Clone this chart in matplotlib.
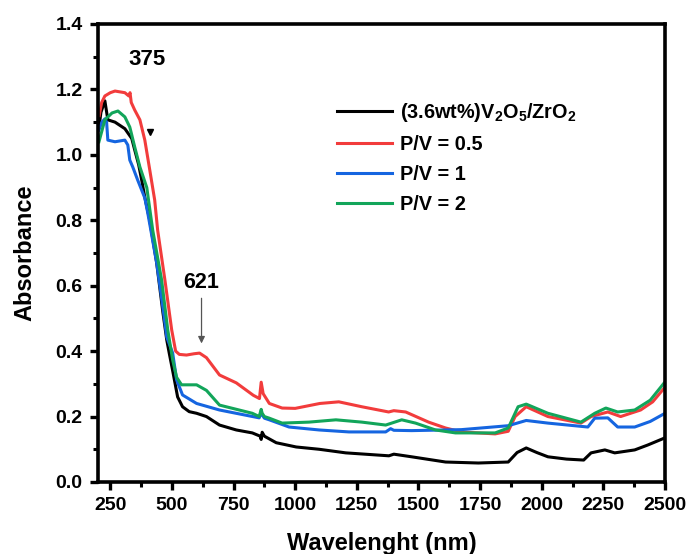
import matplotlib.pyplot as plt
from matplotlib.ticker import MultipleLocator

plt.rcParams['font.family'] = ['Liberation Sans', 'DejaVu Sans']
plt.rcParams['font.weight'] = 'bold'
plt.rcParams['mathtext.fontset'] = 'custom'
plt.rcParams['mathtext.rm'] = 'Liberation Sans:bold'
plt.rcParams['mathtext.it'] = 'Liberation Sans:bold'
plt.rcParams['mathtext.bf'] = 'Liberation Sans:bold'

# ----------------------------
# Data
# ----------------------------
wl_base = [205, 212, 228, 240, 269, 309, 337, 349, 365, 378, 390, 410, 438, 463, 479, 490,
           503, 523, 543, 570, 600, 640, 693, 761, 826, 858, 862, 866, 875, 923, 1004, 1097,
           1205, 1380, 1400, 1472, 1610, 1743, 1864, 1900, 1937, 1980, 2025, 2100, 2170, 2200,
           2256, 2296, 2377, 2430, 2500]
a_base = [1.09, 1.13, 1.165, 1.107, 1.10, 1.08, 1.05, 1.015, 0.97, 0.92, 0.87, 0.80, 0.67, 0.52,
          0.434, 0.39, 0.34, 0.26, 0.23, 0.215, 0.21, 0.20, 0.174, 0.159, 0.15, 0.14, 0.13, 0.152,
          0.14, 0.12, 0.107, 0.100, 0.089, 0.08, 0.085, 0.077, 0.061, 0.058, 0.061, 0.09, 0.104,
          0.09, 0.077, 0.07, 0.067, 0.089, 0.098, 0.089, 0.098, 0.113, 0.135]

wl_p05 = [205, 215, 228, 250, 269, 309, 325, 330, 335, 349, 370, 390, 410, 430, 442, 471, 499,
          515, 530, 559, 590, 612, 640, 693, 761, 830, 855, 862, 870, 895, 947, 1000, 1100, 1177,
          1270, 1379, 1400, 1448, 1541, 1610, 1674, 1811, 1864, 1892, 1937, 2025, 2159, 2200,
          2268, 2320, 2401, 2450, 2500]
a_p05 = [1.12, 1.16, 1.18, 1.19, 1.195, 1.19, 1.18, 1.19, 1.16, 1.137, 1.107, 1.045, 0.954,
         0.862, 0.77, 0.62, 0.465, 0.40, 0.39, 0.388, 0.392, 0.394, 0.38, 0.327, 0.303, 0.265,
         0.255, 0.305, 0.27, 0.24, 0.226, 0.225, 0.24, 0.245, 0.23, 0.214, 0.218, 0.214, 0.183,
         0.165, 0.153, 0.147, 0.155, 0.2, 0.23, 0.2, 0.18, 0.2, 0.214, 0.2, 0.22, 0.245, 0.29]

wl_p1 = [204, 216, 228, 235, 240, 269, 309, 321, 329, 341, 361, 390, 402, 438, 463, 479, 503,
         519, 543, 600, 693, 854, 862, 866, 875, 895, 975, 1097, 1218, 1367, 1387, 1400, 1472,
         1674, 1864, 1937, 2025, 2187, 2215, 2268, 2308, 2377, 2440, 2500]
a_p1 = [1.076, 1.10, 1.11, 1.10, 1.045, 1.04, 1.045, 1.03, 0.984, 0.963, 0.923, 0.868, 0.822,
        0.67, 0.535, 0.443, 0.394, 0.312, 0.266, 0.24, 0.22, 0.196, 0.214, 0.205, 0.195, 0.19,
        0.168, 0.159, 0.153, 0.153, 0.163, 0.158, 0.157, 0.16, 0.172, 0.188, 0.18, 0.168, 0.195,
        0.196, 0.168, 0.168, 0.185, 0.21]

wl_p2 = [204, 228, 257, 281, 309, 329, 335, 349, 370, 398, 422, 458, 483, 503, 519, 539, 600,
         640, 693, 826, 854, 862, 866, 875, 895, 947, 1056, 1165, 1270, 1367, 1432, 1488, 1569,
         1650, 1811, 1864, 1904, 1937, 2025, 2159, 2215, 2260, 2308, 2377, 2440, 2500]
a_p2 = [1.04, 1.107, 1.128, 1.134, 1.116, 1.085, 1.067, 1.024, 0.963, 0.90, 0.77, 0.618, 0.465,
        0.373, 0.32, 0.297, 0.297, 0.28, 0.235, 0.21, 0.2, 0.222, 0.21, 0.2, 0.195, 0.18, 0.183,
        0.19, 0.183, 0.174, 0.19, 0.18, 0.159, 0.15, 0.15, 0.165, 0.23, 0.238, 0.21, 0.183, 0.21,
        0.226, 0.214, 0.22, 0.25, 0.306]

labels = [r'(3.6wt%)V$_2$O$_5$/ZrO$_2$', 'P/V = 0.5', 'P/V = 1', 'P/V = 2']
colors = ['black', '#f23c3c', '#1565e0', '#12a55a']

# ----------------------------
# Plot
# ----------------------------
fig = plt.figure(figsize=(6.89, 5.54), dpi=100)
ax = fig.add_axes([0.1422, 0.130, 0.8230, 0.8267])

series = [(wl_base, a_base), (wl_p05, a_p05), (wl_p1, a_p1), (wl_p2, a_p2)]
for (x, y), lab, c in zip(series, labels, colors):
    ax.plot(x, y, color=c, lw=2.2, label=lab)

ax.set_xlim(200, 2500)
ax.set_ylim(0, 1.4)
ax.xaxis.set_major_locator(MultipleLocator(250))
ax.xaxis.set_minor_locator(MultipleLocator(125))
ax.yaxis.set_major_locator(MultipleLocator(0.2))
ax.yaxis.set_minor_locator(MultipleLocator(0.1))
ax.yaxis.set_major_formatter(plt.FuncFormatter(lambda v, p: f"{v:.1f}"))

for s in ax.spines.values():
    s.set_linewidth(2.6)
ax.tick_params(which='major', direction='out', length=6, width=2.4, labelsize=14, pad=5)
ax.tick_params(which='minor', direction='out', length=3.5, width=2.2)
ax.tick_params(top=False, right=False)

ax.set_xlabel('Wavelenght (nm)', fontsize=17, fontweight='bold', labelpad=13)
ax.set_ylabel('Absorbance', fontsize=17, fontweight='bold', labelpad=14)

# annotations
ax.text(400, 1.29, '375', fontsize=16, fontweight='bold', ha='center', va='center')
ax.plot([410], [1.07], marker='v', color='black', markersize=5)
ax.text(620, 0.61, '621', fontsize=15.5, fontweight='bold', ha='center', va='center')
ax.annotate('', xy=(620, 0.415), xytext=(620, 0.57),
            arrowprops=dict(arrowstyle='-|>', color='#555555', lw=0.9, mutation_scale=10))

ax.legend(loc='upper left', bbox_to_anchor=(0.39, 0.87), frameon=False, fontsize=14.3,
          handlelength=2.75, handletextpad=0.4, labelspacing=0.55)

plt.savefig('out.png', dpi=100)
